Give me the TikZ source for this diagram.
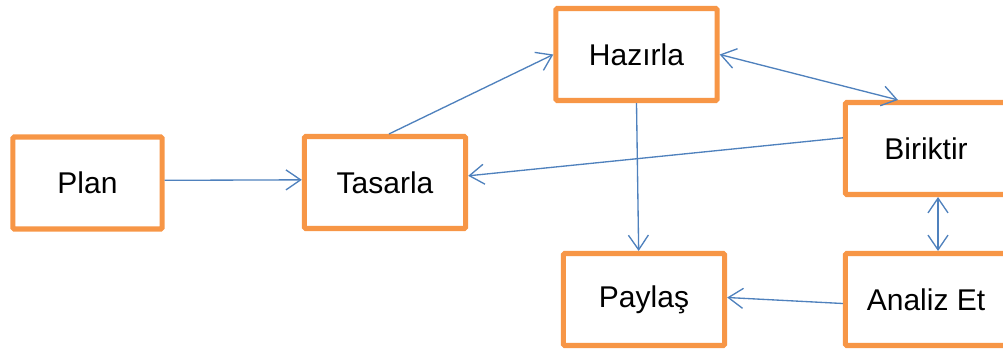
\documentclass[tikz,border=0pt]{standalone}
\usepackage{fontspec}
\setmainfont{Liberation Sans}
\usepackage{tikz}
\usetikzlibrary{arrows.meta, positioning}

\definecolor{boxorange}{HTML}{F79646}
\definecolor{linkblue}{HTML}{4F81BD}

\begin{document}
\begin{tikzpicture}[x=0.75pt, y=-0.75pt,
    box/.style={draw=boxorange, line width=3.8pt, rounded corners=1pt, fill=white,
        minimum width=121pt, minimum height=69pt, inner sep=0pt,
        font=\fontsize{22.5}{26}\selectfont},
    link/.style={draw=linkblue, line width=1pt,
        -{Straight Barb[length=11pt, width=15pt, line width=1pt]}},
    both/.style={link, {Straight Barb[length=11pt, width=15pt, line width=1pt]}-{Straight Barb[length=11pt, width=15pt, line width=1pt]}}]
    \useasboundingbox (0,0) rectangle (1003,349);

    % Draw the boxes
    \node[box, minimum width=112pt] (plan) at (87.5,183) {Plan};
    \node[box] (tasarla) at (385,182.5) {Tasarla};
    \node[box] (hazirla) at (636.5,54.5) {Hazırla};
    \node[box] (biriktir) at (926,148.5) {Biriktir};
    \node[box] (paylas) at (644,299.5) {Paylaş};
    \node[box] (analiz) at (926,299.5) {Analiz Et};

    % Draw the arrows
    \draw[link] ([yshift=2pt]plan.east) -- ([yshift=2pt]tasarla.west);
    \draw[link] ([xshift=3pt]tasarla.north) -- (hazirla.west);
    \draw[both] (hazirla.east) -- ([xshift=-21pt]biriktir.north);
    \draw[link] ([yshift=8pt]biriktir.west) -- ([yshift=5pt]tasarla.east);
    \draw[link] (hazirla.south) -- ([xshift=-4pt]paylas.north);
    \draw[both] ([xshift=9pt]biriktir.south) -- ([xshift=9pt]analiz.north);
    \draw[link] ([yshift=-3pt]analiz.west) -- ([yshift=1.5pt]paylas.east);

\end{tikzpicture}
\end{document}
